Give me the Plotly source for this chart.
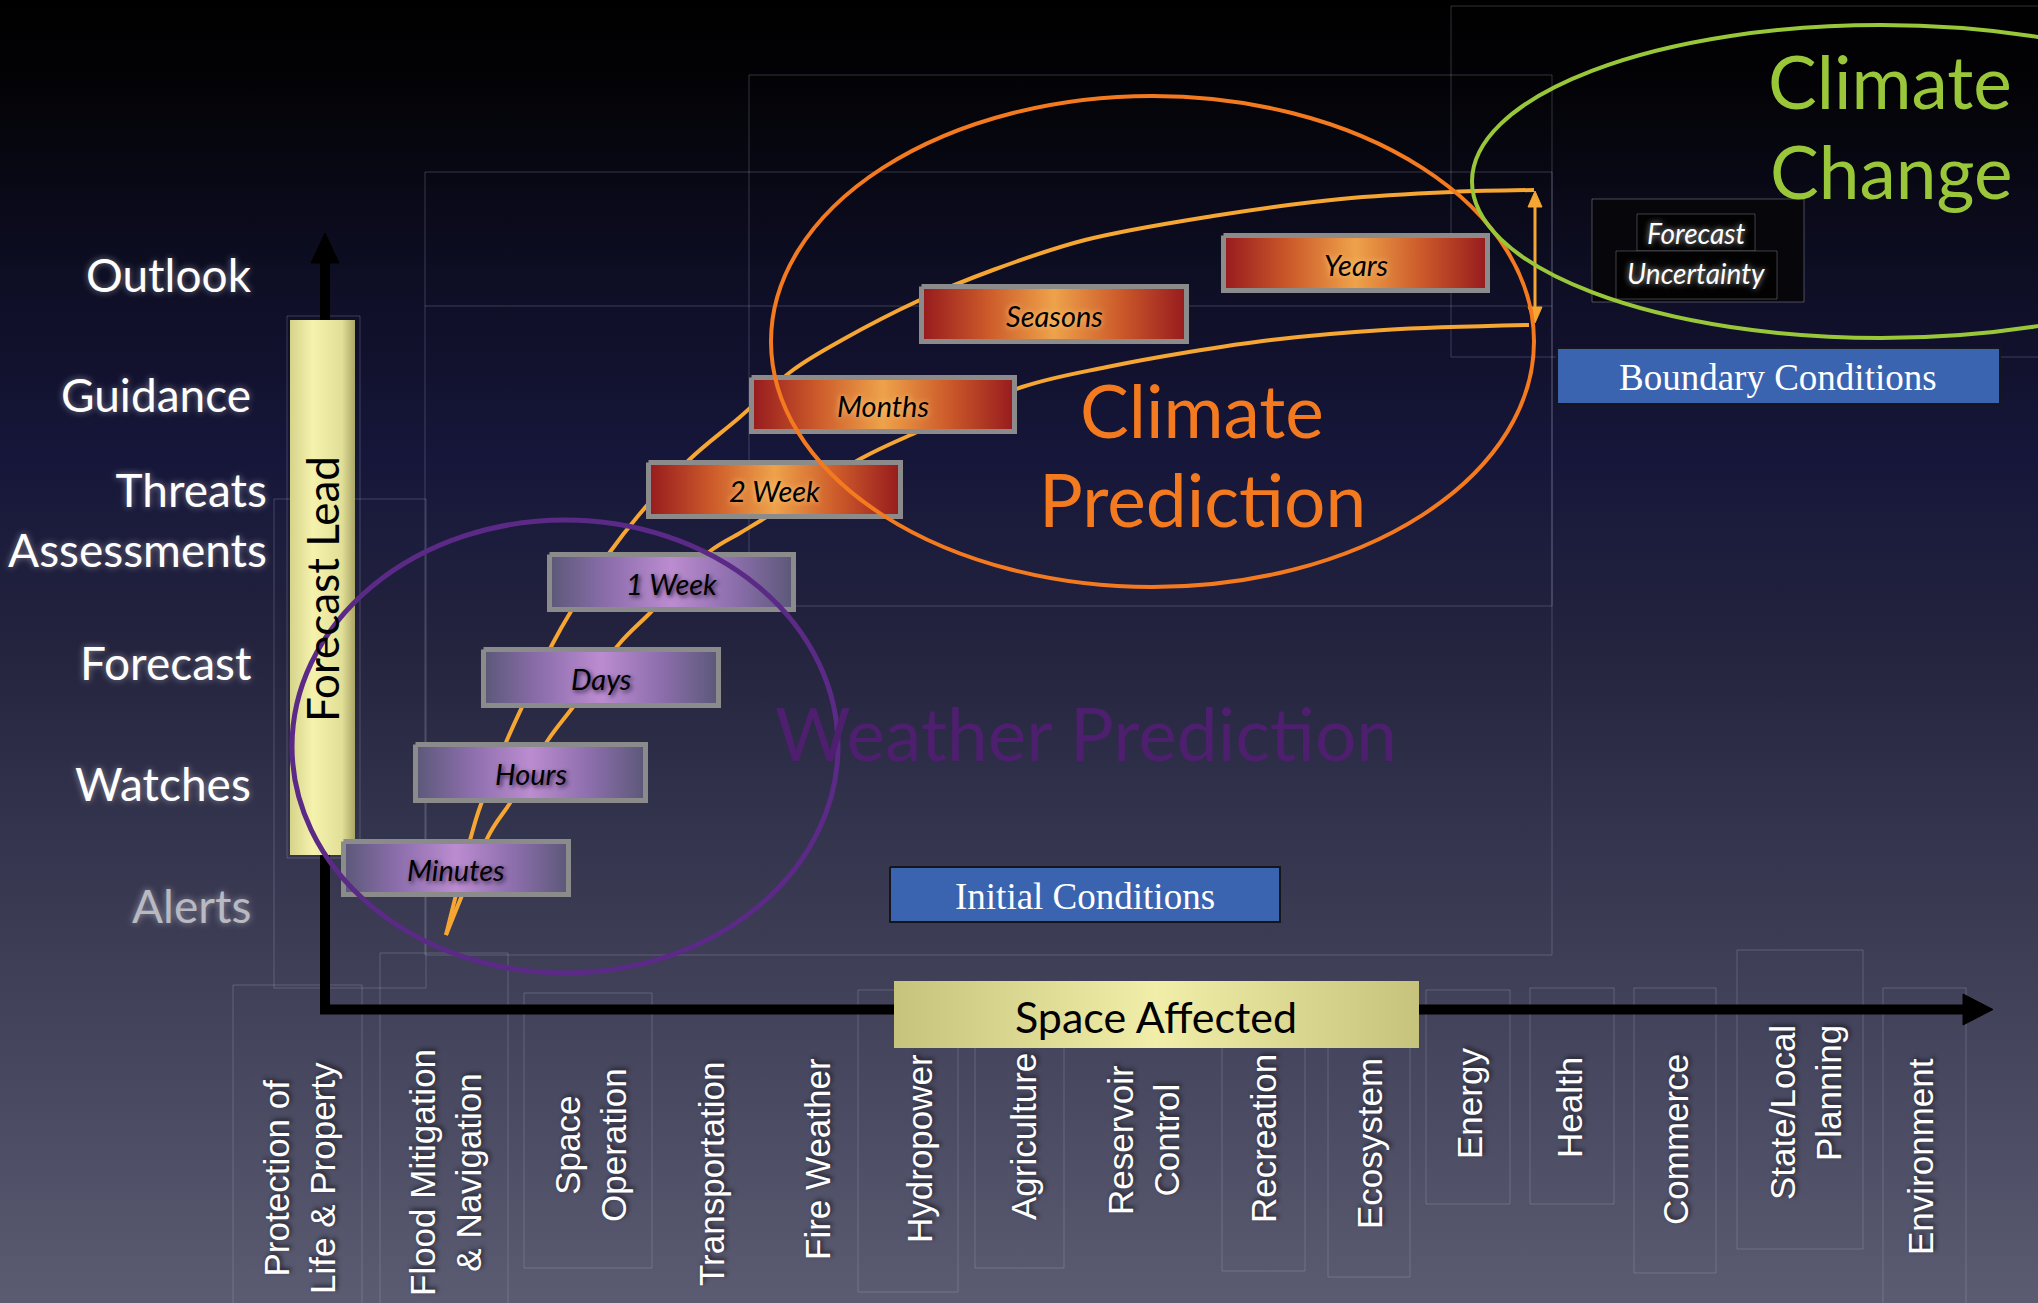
import plotly.graph_objects as go

# ---------------- content ----------------
LEAD_LEVELS = ["Outlook", "Guidance", "Threats<br>Assessments", "Forecast", "Watches", "Alerts"]
TIMESCALES = ["Minutes", "Hours", "Days", "1 Week", "2 Week", "Months", "Seasons", "Years"]
TIMESCALE_REGIME = ["weather", "weather", "weather", "weather",
                    "climate", "climate", "climate", "climate"]
SECTORS = ["Protection of<br>Life & Property", "Flood Mitigation<br>& Navigation",
           "Space<br>Operation", "Transportation", "Fire Weather", "Hydropower",
           "Agriculture", "Reservoir<br>Control", "Recreation", "Ecosystem", "Energy",
           "Health", "Commerce", "State/Local<br>Planning", "Environment"]
AXIS_TITLES = ["Forecast Lead", "Space Affected"]
REGIMES = ["Weather Prediction", "Climate<br>Prediction", "Climate<br>Change"]
CONDITIONS = ["Initial Conditions", "Boundary Conditions"]
UNCERTAINTY = ["Forecast", "Uncertainty"]

# ---------------- layout geometry (canvas pixels, y downwards) ----------------
W, H = 2038, 1303
LEVEL_Y = [274, 394, 519, 662, 783, 905]
LEVEL_RIGHT = [254, 253, 269, 254, 253, 253]
LEVEL_COLOR = ["white"] * 5 + ["#b9b9c2"]

# timescale boxes: x0, x1, y0, y1
BOX = [(341, 571, 839, 897), (413, 648, 742, 803), (481, 721, 647, 708),
       (547, 796, 552, 612), (646, 903, 460, 519), (749, 1017, 375, 434),
       (919, 1189, 284, 344), (1221, 1490, 233, 293)]

SECTOR_X = [299, 445, 590, 711, 817, 919, 1023, 1143, 1263, 1369, 1469, 1569, 1675, 1805, 1920]
SECTOR_Y = [1178, 1173, 1145, 1174, 1159, 1149, 1137, 1140, 1139, 1144, 1104, 1108, 1140, 1113, 1157]
SECTOR_ALIGN = ["center"] * 13 + ["right", "center"]

# envelope curves of predictability (upper / lower edge)
UPPER_X = [446, 472, 480, 507, 522, 553, 570, 610, 638, 689, 740, 793, 842, 920, 993,
           1085, 1213, 1341, 1452, 1534]
UPPER_Y = [935, 833, 807, 740, 707, 643, 613, 552, 516, 460, 417, 370, 340, 300, 270,
           240, 216, 199, 192, 190]
LOWER_X = [446, 490, 510, 548, 573, 620, 650, 709, 740, 760, 862, 915, 1022, 1107, 1189,
           1271, 1384, 1529]
LOWER_Y = [935, 833, 803, 740, 707, 643, 613, 552, 533, 521, 458, 433, 387, 367, 352,
           340, 330, 325]

GHOST_RECTS = [(749, 75, 1552, 606), (425, 172, 1552, 955), (1451, 6, 2045, 357),
               (287, 316, 360, 858), (274, 499, 426, 988), (233, 985, 362, 1310),
               (380, 953, 508, 1310), (524, 993, 652, 1268), (858, 990, 958, 1292),
               (975, 988, 1064, 1268), (1222, 988, 1305, 1271), (1328, 988, 1410, 1277),
               (1426, 990, 1510, 1204), (1530, 988, 1614, 1204), (1634, 988, 1716, 1273),
               (1737, 950, 1863, 1249), (1883, 988, 1966, 1310)]
GHOST_HLINES = [(425, 1552, 306)]

# ---------------- styles ----------------
BG_SCALE = [[0.0, "#000000"], [0.08, "#040409"], [0.2, "#0d0d22"], [0.35, "#16163a"],
            [0.5, "#24243f"], [0.7, "#3a3b53"], [0.85, "#4a4b62"], [1.0, "#5b5c72"]]
WEATHER_SCALE = [[0.0, "#5b5878"], [0.25, "#8e6fae"], [0.5, "#bb8cd0"],
                 [0.75, "#8e6fae"], [1.0, "#5b5878"]]
CLIMATE_SCALE = [[0.0, "#961a1e"], [0.25, "#cc5a2a"], [0.5, "#eea24a"],
                 [0.75, "#cc5a2a"], [1.0, "#961a1e"]]
YELLOW_SCALE = [[0.0, "#d6d38b"], [0.35, "#f4f2ad"], [0.8, "#e2df97"], [1.0, "#aaa666"]]
YELLOW_H_SCALE = [[0.0, "#c6c37c"], [0.5, "#f0eea8"], [1.0, "#c6c37c"]]
ORANGE_LINE = "#f6a632"
GHOST = "rgba(190,190,215,0.26)"
BLUE = "#3a64b0"

fig = go.Figure()


def rect_xy(x0, y0, x1, y1):
    return [x0, x1, x1, x0, x0], [y0, y0, y1, y1, y0]


def add_poly(xs, ys, **kw):
    kw.setdefault("mode", "lines")
    fig.add_trace(go.Scatter(x=xs, y=ys, hoverinfo="skip", showlegend=False, **kw))


# background
bx, by = rect_xy(0, 0, W, H)
add_poly(bx, by, fill="toself", line=dict(width=0),
         fillgradient=dict(type="vertical", colorscale=BG_SCALE, start=0, stop=H))

# faint placeholder outlines
gx, gy = [], []
for x0, y0, x1, y1 in GHOST_RECTS:
    xs, ys = rect_xy(x0, y0, x1, y1)
    gx += xs + [None]
    gy += ys + [None]
for x0, x1, yy in GHOST_HLINES:
    gx += [x0, x1, None]
    gy += [yy, yy, None]
add_poly(gx, gy, line=dict(color=GHOST, width=1))

# predictability envelope
add_poly(UPPER_X, UPPER_Y, line=dict(color=ORANGE_LINE, width=4, shape="spline", smoothing=1.0))
add_poly(LOWER_X, LOWER_Y, line=dict(color=ORANGE_LINE, width=4, shape="spline", smoothing=1.0))

# axes (forecast lead up, space affected right)
add_poly([325, 325, 1965], [262, 1009.5, 1009.5], line=dict(color="black", width=10))
add_poly([311, 339, 325, 311], [263, 263, 233, 263], fill="toself", fillcolor="black",
         line=dict(color="black", width=1))
add_poly([1963, 1963, 1993, 1963], [994, 1025, 1009.5, 994], fill="toself", fillcolor="black",
         line=dict(color="black", width=1))

# axis title bars
xs, ys = rect_xy(290, 320, 355, 855)
add_poly(xs, ys, fill="toself", line=dict(width=0),
         fillgradient=dict(type="horizontal", colorscale=YELLOW_SCALE))
xs, ys = rect_xy(894, 981, 1419, 1048)
add_poly(xs, ys, fill="toself", line=dict(width=0),
         fillgradient=dict(type="horizontal", colorscale=YELLOW_H_SCALE))

# timescale boxes
for name, regime, (x0, x1, y0, y1) in zip(TIMESCALES, TIMESCALE_REGIME, BOX):
    xs, ys = rect_xy(x0 + 2.5, y0 + 2.5, x1 - 2.5, y1 - 2.5)
    scale = WEATHER_SCALE if regime == "weather" else CLIMATE_SCALE
    add_poly(xs, ys, fill="toself", line=dict(color="#8b8b8b", width=5),
             fillgradient=dict(type="horizontal", colorscale=scale))

# forecast uncertainty panel
xs, ys = rect_xy(1592, 199, 1804, 302)
add_poly(xs, ys, fill="toself", fillcolor="#06060b", line=dict(color="rgba(200,200,220,0.35)", width=1))
for (x0, y0, x1, y1) in [(1637, 214, 1755, 251), (1616, 251, 1777, 299)]:
    xs, ys = rect_xy(x0, y0, x1, y1)
    add_poly(xs, ys, fill="toself", fillcolor="#020203",
             line=dict(color="rgba(200,200,220,0.3)", width=1))

# uncertainty double arrow
add_poly([1535, 1535], [204, 310], line=dict(color=ORANGE_LINE, width=3))
add_poly([1528, 1542, 1535, 1528], [207, 207, 191, 207], fill="toself", fillcolor=ORANGE_LINE,
         line=dict(color=ORANGE_LINE, width=1))
add_poly([1528, 1542, 1535, 1528], [307, 307, 323, 307], fill="toself", fillcolor=ORANGE_LINE,
         line=dict(color=ORANGE_LINE, width=1))

# condition boxes
for (x0, y0, x1, y1) in [(890, 867, 1280, 922), (1557, 348, 2000, 404)]:
    xs, ys = rect_xy(x0, y0, x1, y1)
    add_poly(xs, ys, fill="toself", fillcolor=BLUE, line=dict(color="#15151c", width=2))

# regime ellipses
ellipses = [((292, 520, 838, 973), "#5b2a86", 5),
            ((771, 96, 1534, 587), "#f47a20", 4),
            ((1472, 25, 2290, 338), "#9ac73a", 4)]
for (x0, y0, x1, y1), col, wid in ellipses:
    fig.add_shape(type="circle", xref="x", yref="y", x0=x0, y0=y0, x1=x1, y1=y1,
                  line=dict(color=col, width=wid), fillcolor="rgba(0,0,0,0)", layer="above")

# ---------------- text ----------------
ann = []
GILL = "Lato, 'Open Sans', sans-serif"

for lab, yy, xr, col in zip(LEAD_LEVELS, LEVEL_Y, LEVEL_RIGHT, LEVEL_COLOR):
    ann.append(dict(x=xr, y=yy, text=lab, xanchor="right", yanchor="middle", align="right",
                    showarrow=False,
                    font=dict(family=GILL, size=46, color=col,
                              shadow="0px 0px 7px rgba(255,255,255,0.45)")))

for name, regime, (x0, x1, y0, y1) in zip(TIMESCALES, TIMESCALE_REGIME, BOX):
    sh = ("2px 2px 4px rgba(20,10,40,0.75)" if regime == "weather"
          else "0px 0px 6px rgba(255,205,130,0.95)")
    ann.append(dict(x=(x0 + x1) / 2, y=(y0 + y1) / 2 + 1, text=name, showarrow=False,
                    xanchor="center", yanchor="middle",
                    font=dict(family=GILL, size=29, color="black", style="italic", shadow=sh)))

for lab, xx, yy, al in zip(SECTORS, SECTOR_X, SECTOR_Y, SECTOR_ALIGN):
    ann.append(dict(x=xx, y=yy, text=lab, textangle=-90, showarrow=False, align=al,
                    xanchor="center", yanchor="middle",
                    font=dict(family="Liberation Sans, Arial, sans-serif", size=35, color="white",
                              shadow="2px 2px 4px rgba(25,25,35,0.9)")))

# axis titles
ann.append(dict(x=322, y=589, text=AXIS_TITLES[0], textangle=-90, showarrow=False,
                xanchor="center", yanchor="middle",
                font=dict(family=GILL, size=44, color="black")))
ann.append(dict(x=1156, y=1016, text=AXIS_TITLES[1], showarrow=False,
                xanchor="center", yanchor="middle",
                font=dict(family=GILL, size=43, color="black")))

# regime titles
ann.append(dict(x=1086, y=733, text=REGIMES[0], showarrow=False, xanchor="center",
                yanchor="middle", font=dict(family=GILL, size=73, color="#4e1f6e")))
for line, yy in zip(REGIMES[1].split("<br>"), [410, 499]):
    ann.append(dict(x=1202, y=yy, text=line, showarrow=False, xanchor="center",
                    yanchor="middle", font=dict(family=GILL, size=73, color="#f47a20")))
for line, yy in zip(REGIMES[2].split("<br>"), [81, 171]):
    ann.append(dict(x=2014, y=yy, text=line, showarrow=False, xanchor="right",
                    yanchor="middle", font=dict(family=GILL, size=73, color="#9ac73a")))

# conditions
ann.append(dict(x=1085, y=896, text=CONDITIONS[0], showarrow=False, xanchor="center",
                yanchor="middle",
                font=dict(family="Liberation Serif, 'Times New Roman', serif", size=37, color="white")))
ann.append(dict(x=1778, y=377, text=CONDITIONS[1], showarrow=False, xanchor="center",
                yanchor="middle",
                font=dict(family="Liberation Serif, 'Times New Roman', serif", size=37, color="white")))

# forecast uncertainty
for line, yy in zip(UNCERTAINTY, [233, 273]):
    ann.append(dict(x=1696, y=yy, text=line, showarrow=False, xanchor="center", yanchor="middle",
                    font=dict(family=GILL, size=28, color="white", style="italic",
                              shadow="0px 0px 6px rgba(255,255,255,0.7)")))

fig.update_layout(
    width=W, height=H,
    margin=dict(l=0, r=0, t=0, b=0, pad=0),
    paper_bgcolor="black", plot_bgcolor="black",
    xaxis=dict(range=[0, W], visible=False, fixedrange=True),
    yaxis=dict(range=[H, 0], visible=False, fixedrange=True),
    showlegend=False,
    annotations=ann,
)

fig.write_html("out.html")
